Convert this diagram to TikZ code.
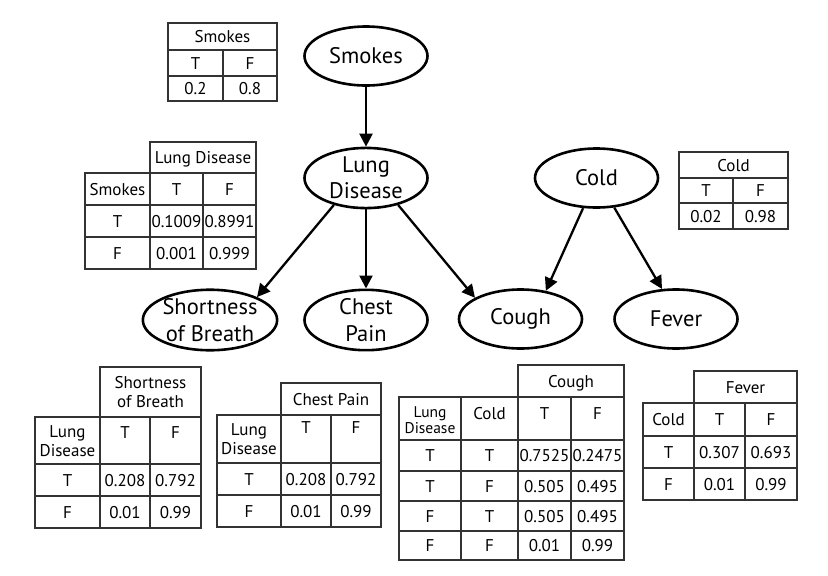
\documentclass[tikz,border=0pt]{standalone}
\usepackage{fontspec}
\setmainfont{PT Sans}
\usetikzlibrary{shapes.geometric,arrows.meta}

\begin{document}
\begin{tikzpicture}[x=1pt,y=-1pt,
  var/.style={ellipse, draw, line width=2.6pt, minimum width=123pt, minimum height=59pt,
    inner sep=0pt, align=center, font=\fontsize{22.5}{26.5}\selectfont},
  link/.style={line width=2.3pt, -{Triangle[length=13pt,width=13pt]}},
  grid/.style={line width=1.4pt, draw=black!80},
  cell/.style={inner sep=0pt, font=\fontsize{17}{19}\selectfont, text height=12pt, text depth=0pt},
  cellm/.style={inner sep=0pt, align=center, font=\fontsize{17}{18.5}\selectfont},
]
\useasboundingbox (0,0) rectangle (828,576);

% ---- network variables ----
\node[var] (smokes) at (366,56)    {Smokes};
\node[var] (lung)   at (366,178)   {Lung\\Disease};
\node[var] (sob)    at (210,320)   {Shortness\\of Breath};
\node[var] (chest)  at (366,320)   {Chest\\Pain};
\node[var] (cough)  at (520.5,319) {Cough};
\node[var] (cold)   at (596.5,178) {Cold};
\node[var] (fever)  at (676,319)   {Fever};

% ---- dependencies ----
\draw[link] (smokes.south) -- (lung.north);
\draw[link] (lung.220) -- (sob.26);
\draw[link] (lung.south) -- (chest.north);
\draw[link] (lung.320) -- (cough.155);
\draw[link] (cold.246) -- (cough.48);
\draw[link] (cold.301) -- (fever.115);

% ---- P(Smokes) ----
\draw[grid] (168,23) rectangle (277,101) (168,50) -- (277,50) (168,76) -- (277,76)
  (223,50) -- (223,101);
\foreach \x/\y/\t [count=\i] in {222.5/36.5/Smokes, 195.5/63/T, 250/63/F,
    195.5/88.5/0.2, 250/88.5/0.8}
  \node[cell] (ts-\i) at (\x,\y) {\t};

% ---- P(Lung Disease | Smokes) ----
\draw[grid] (150,142) rectangle (256,173) (85,173) rectangle (256,269)
  (85,205) -- (256,205) (85,237) -- (256,237)
  (150,173) -- (150,269) (203,173) -- (203,269);
\foreach \x/\y/\t [count=\i] in {203/157.5/Lung Disease, 117.5/189/Smokes, 176.5/189/T,
    229.5/189/F, 117.5/221/T, 176.5/221/0.1009, 229.5/221/0.8991,
    117.5/253/F, 176.5/253/0.001, 229.5/253/0.999}
  \node[cell] (tl-\i) at (\x,\y) {\t};

% ---- P(Cold) ----
\draw[grid] (679,152) rectangle (788,229) (679,178) -- (788,178) (679,203) -- (788,203)
  (733,178) -- (733,229);
\foreach \x/\y/\t [count=\i] in {733.5/165/Cold, 706/190.5/T, 760.5/190.5/F,
    706/216/0.02, 760.5/216/0.98}
  \node[cell] (tc-\i) at (\x,\y) {\t};

% ---- P(Shortness of Breath | Lung Disease) ----
\draw[grid] (100,367) rectangle (201,417) (35,417) rectangle (201,528)
  (35,464) -- (201,464) (35,496) -- (201,496)
  (100,417) -- (100,528) (150,417) -- (150,528);
\node[cellm] (tb-h) at (150.5,392) {Shortness\\of Breath};
\node[cellm] (tb-p) at (67.5,441) {Lung\\Disease};
\foreach \x/\y/\t [count=\i] in {125/432.5/T, 175.5/432.5/F,
    67.5/480/T, 125/480/0.208, 175.5/480/0.792,
    67.5/512/F, 125/512/0.01, 175.5/512/0.99}
  \node[cell] (tb-\i) at (\x,\y) {\t};

% ---- P(Chest Pain | Lung Disease) ----
\draw[grid] (281,383) rectangle (381,415) (217,415) rectangle (381,527)
  (217,463) -- (381,463) (217,495) -- (381,495)
  (281,415) -- (281,527) (331,415) -- (331,527);
\node[cellm] (tp-p) at (249,439) {Lung\\Disease};
\foreach \x/\y/\t [count=\i] in {331/399/Chest Pain, 306/427.5/T, 356/427.5/F,
    249/479/T, 306/479/0.208, 356/479/0.792,
    249/511/F, 306/511/0.01, 356/511/0.99}
  \node[cell] (tp-\i) at (\x,\y) {\t};

% ---- P(Cough | Lung Disease, Cold) ----
\draw[grid] (518,365) rectangle (624,397) (399,397) rectangle (624,560)
  (399,440) -- (624,440) (399,471) -- (624,471) (399,501) -- (624,501) (399,531) -- (624,531)
  (461,397) -- (461,560) (518,397) -- (518,560) (571,397) -- (571,560);
\node[cellm, font=\fontsize{15.5}{16.5}\selectfont] (tg-p) at (430,420) {Lung\\Disease};
\foreach \x/\y/\t [count=\i] in {571/381/Cough, 489.5/413/Cold, 544.5/413/T, 597.5/413/F,
    430/455.5/T, 489.5/455.5/T, 544.5/455.5/0.7525, 597.5/455.5/0.2475,
    430/486/T, 489.5/486/F, 544.5/486/0.505, 597.5/486/0.495,
    430/516/F, 489.5/516/T, 544.5/516/0.505, 597.5/516/0.495,
    430/545.5/F, 489.5/545.5/F, 544.5/545.5/0.01, 597.5/545.5/0.99}
  \node[cell] (tg-\i) at (\x,\y) {\t};

% ---- P(Fever | Cold) ----
\draw[grid] (694,371) rectangle (797,403) (643,403) rectangle (797,500)
  (643,436) -- (797,436) (643,468) -- (797,468)
  (694,403) -- (694,500) (745,403) -- (745,500);
\foreach \x/\y/\t [count=\i] in {745.5/387/Fever, 668.5/419.5/Cold, 719.5/419.5/T, 771/419.5/F,
    668.5/452/T, 719.5/452/0.307, 771/452/0.693,
    668.5/484/F, 719.5/484/0.01, 771/484/0.99}
  \node[cell] (tf-\i) at (\x,\y) {\t};
\end{tikzpicture}
\end{document}
